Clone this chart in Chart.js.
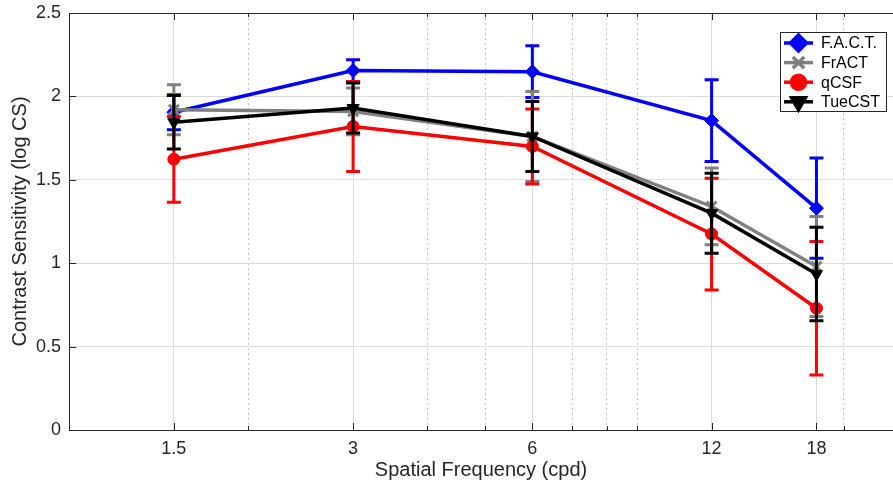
<!DOCTYPE html>
<html>
<head>
<meta charset="utf-8">
<script src="https://cdn.jsdelivr.net/npm/chart.js@4.4.1/dist/chart.umd.min.js"></script>
<style>
  html, body { margin: 0; padding: 0; background: #fff; overflow: hidden; }
  #chart { display: block; }
</style>
</head>
<body>
<canvas id="chart" width="893" height="484"></canvas>
<script>
const frequencies = [1.5, 3, 6, 12, 18];
const xMajorTicks = [1.5, 3, 6, 12, 18];
const xMinorTicks = [2, 4, 5, 7, 8, 9, 20];
const yTicks = [0, 0.5, 1, 1.5, 2, 2.5];

const factMean = [1.905, 2.155, 2.148, 1.855, 1.33];
const factErr = [0.105, 0.065, 0.155, 0.245, 0.30];
const fractMean = [1.92, 1.91, 1.76, 1.34, 0.98];
const fractErr = [0.15, 0.14, 0.27, 0.23, 0.30];
const qcsfMean = [1.623, 1.82, 1.70, 1.175, 0.73];
const qcsfErr = [0.257, 0.27, 0.225, 0.335, 0.40];
const tuecstMean = [1.845, 1.93, 1.76, 1.30, 0.935];
const tuecstErr = [0.16, 0.15, 0.21, 0.24, 0.28];

const axisColor = "#262626";
const fontFamily = "'Liberation Sans', Arial, Helvetica, sans-serif";

Chart.defaults.font.family = fontFamily;
Chart.defaults.color = axisColor;

function points(values) {
  return frequencies.map((f, i) => ({ x: f, y: values[i] }));
}

function makeSeries(label, values, errors, color, style, order) {
  return {
    label,
    data: points(values),
    errors,
    borderColor: color,
    backgroundColor: color,
    borderWidth: 3.5,
    showLine: true,
    pointStyle: style.pointStyle,
    pointRadius: style.radius,
    pointRotation: style.rotation || 0,
    pointBorderWidth: style.borderWidth || 1,
    pointBackgroundColor: color,
    pointBorderColor: color,
    order,
  };
}

const errorBars = {
  id: "errorBars",
  afterDatasetDraw(chart, args) {
    const ds = chart.data.datasets[args.index];
    const { ctx, scales: { x, y } } = chart;
    ctx.save();
    ctx.strokeStyle = ds.borderColor;
    ctx.lineWidth = 3;
    ds.errors.forEach((e, i) => {
      const p = ds.data[i];
      const px = x.getPixelForValue(p.x);
      const top = y.getPixelForValue(p.y + e);
      const bot = y.getPixelForValue(p.y - e);
      ctx.beginPath();
      ctx.moveTo(px, top);
      ctx.lineTo(px, bot);
      ctx.moveTo(px - 7, top);
      ctx.lineTo(px + 7, top);
      ctx.moveTo(px - 7, bot);
      ctx.lineTo(px + 7, bot);
      ctx.stroke();
    });
    ctx.restore();
  },
};

// box lines and inward ticks, matlab style
const axesBox = {
  id: "axesBox",
  beforeDatasetsDraw(chart) {
    const { ctx, chartArea: a, scales: { x, y } } = chart;
    ctx.save();
    ctx.strokeStyle = axisColor;
    ctx.lineWidth = 1;
    ctx.beginPath();
    ctx.moveTo(a.left + 0.5, a.top + 0.5);
    ctx.lineTo(a.right, a.top + 0.5);
    ctx.moveTo(a.left + 0.5, a.top);
    ctx.lineTo(a.left + 0.5, a.bottom + 0.5);
    ctx.lineTo(a.right, a.bottom + 0.5);
    xMajorTicks.forEach((v) => {
      const px = Math.round(x.getPixelForValue(v)) + 0.5;
      ctx.moveTo(px, a.bottom);
      ctx.lineTo(px, a.bottom - 7);
      ctx.moveTo(px, a.top);
      ctx.lineTo(px, a.top + 7);
    });
    xMinorTicks.forEach((v) => {
      const px = Math.round(x.getPixelForValue(v)) + 0.5;
      ctx.moveTo(px, a.bottom);
      ctx.lineTo(px, a.bottom - 4);
      ctx.moveTo(px, a.top);
      ctx.lineTo(px, a.top + 4);
    });
    yTicks.forEach((v) => {
      const py = Math.round(y.getPixelForValue(v)) + 0.5;
      ctx.moveTo(a.left, py);
      ctx.lineTo(a.left + 7, py);
    });
    ctx.stroke();
    ctx.restore();
  },
};

const boxLegend = {
  id: "boxLegend",
  afterDraw(chart) {
    const { ctx, chartArea: a } = chart;
    const boxW = 106, boxH = 79;
    const bx = a.right - 7 - boxW;
    const by = a.top + 19;
    ctx.save();
    ctx.fillStyle = "#fff";
    ctx.fillRect(bx, by, boxW, boxH);
    ctx.strokeStyle = axisColor;
    ctx.lineWidth = 1;
    ctx.strokeRect(bx + 0.5, by + 0.5, boxW, boxH);
    ctx.font = `16px ${fontFamily}`;
    ctx.textBaseline = "middle";
    chart.data.datasets.forEach((ds, i) => {
      const ry = by + 11 + i * 19.6;
      ctx.strokeStyle = ds.borderColor;
      ctx.fillStyle = ds.borderColor;
      ctx.lineWidth = 3.5;
      ctx.beginPath();
      ctx.moveTo(bx + 4, ry);
      ctx.lineTo(bx + 33, ry);
      ctx.stroke();
      Chart.helpers.drawPoint(ctx, {
        pointStyle: ds.pointStyle,
        radius: ds.pointRadius + 1,
        rotation: ds.pointRotation,
        borderWidth: ds.pointBorderWidth,
      }, bx + 18.5, ry);
      ctx.fillStyle = "#000";
      ctx.fillText(ds.label, bx + 41, ry + 1);
    });
    ctx.restore();
  },
};

const allXTicks = [...xMajorTicks, ...xMinorTicks].sort((a, b) => a - b);

new Chart(document.getElementById("chart"), {
  type: "scatter",
  data: {
    datasets: [
      makeSeries("F.A.C.T.", factMean, factErr, "#0000ff", { pointStyle: "rectRot", radius: 7 }, 3),
      makeSeries("FrACT", fractMean, fractErr, "#808080", { pointStyle: "crossRot", radius: 7, borderWidth: 3 }, 2),
      makeSeries("qCSF", qcsfMean, qcsfErr, "#ff0000", { pointStyle: "circle", radius: 6 }, 1),
      makeSeries("TueCST", tuecstMean, tuecstErr, "#000000", { pointStyle: "triangle", radius: 7, rotation: 180 }, 0),
    ],
  },
  options: {
    responsive: false,
    animation: false,
    events: [],
    layout: { autoPadding: false, padding: { top: 13, right: 0, bottom: 0, left: 0 } },
    plugins: {
      legend: { display: false },
      tooltip: { enabled: false },
    },
    scales: {
      x: {
        type: "logarithmic",
        min: 1,
        max: 24.2,
        afterBuildTicks: (scale) => {
          scale.ticks = allXTicks.map((v) => ({ value: v }));
        },
        afterFit: (scale) => {
          scale.height = 54;
          scale.paddingLeft = 0;
          scale.paddingRight = 0;
        },
        ticks: {
          autoSkip: false,
          maxRotation: 0,
          padding: 8,
          font: { size: 18 },
          color: axisColor,
          callback: (v) => (xMajorTicks.includes(v) ? String(v) : ""),
        },
        grid: {
          drawTicks: false,
          lineWidth: 1,
          color: (c) => (c.tick && xMajorTicks.includes(c.tick.value) ? "#dcdcdc" : "#c4c4c4"),
        },
        border: {
          display: false,
          dash: (c) => (c.tick && !xMajorTicks.includes(c.tick.value) ? [2, 3] : []),
        },
        title: {
          display: true,
          text: "Spatial Frequency (cpd)",
          font: { size: 20 },
          color: axisColor,
          padding: { top: 0, bottom: 2 },
        },
      },
      y: {
        type: "linear",
        min: 0,
        max: 2.5,
        afterBuildTicks: (scale) => {
          scale.ticks = yTicks.map((v) => ({ value: v }));
        },
        afterFit: (scale) => {
          scale.width = 69;
          scale.paddingTop = 0;
          scale.paddingBottom = 0;
        },
        ticks: {
          padding: 8,
          font: { size: 18 },
          color: axisColor,
          callback: (v) => String(v),
        },
        grid: {
          drawTicks: false,
          lineWidth: 1,
          color: "#dcdcdc",
        },
        border: { display: false },
        title: {
          display: true,
          text: "Contrast Sensitivity (log CS)",
          font: { size: 20 },
          color: axisColor,
          padding: { top: 8, bottom: 0 },
        },
      },
    },
  },
  plugins: [errorBars, axesBox, boxLegend],
});
</script>
</body>
</html>
